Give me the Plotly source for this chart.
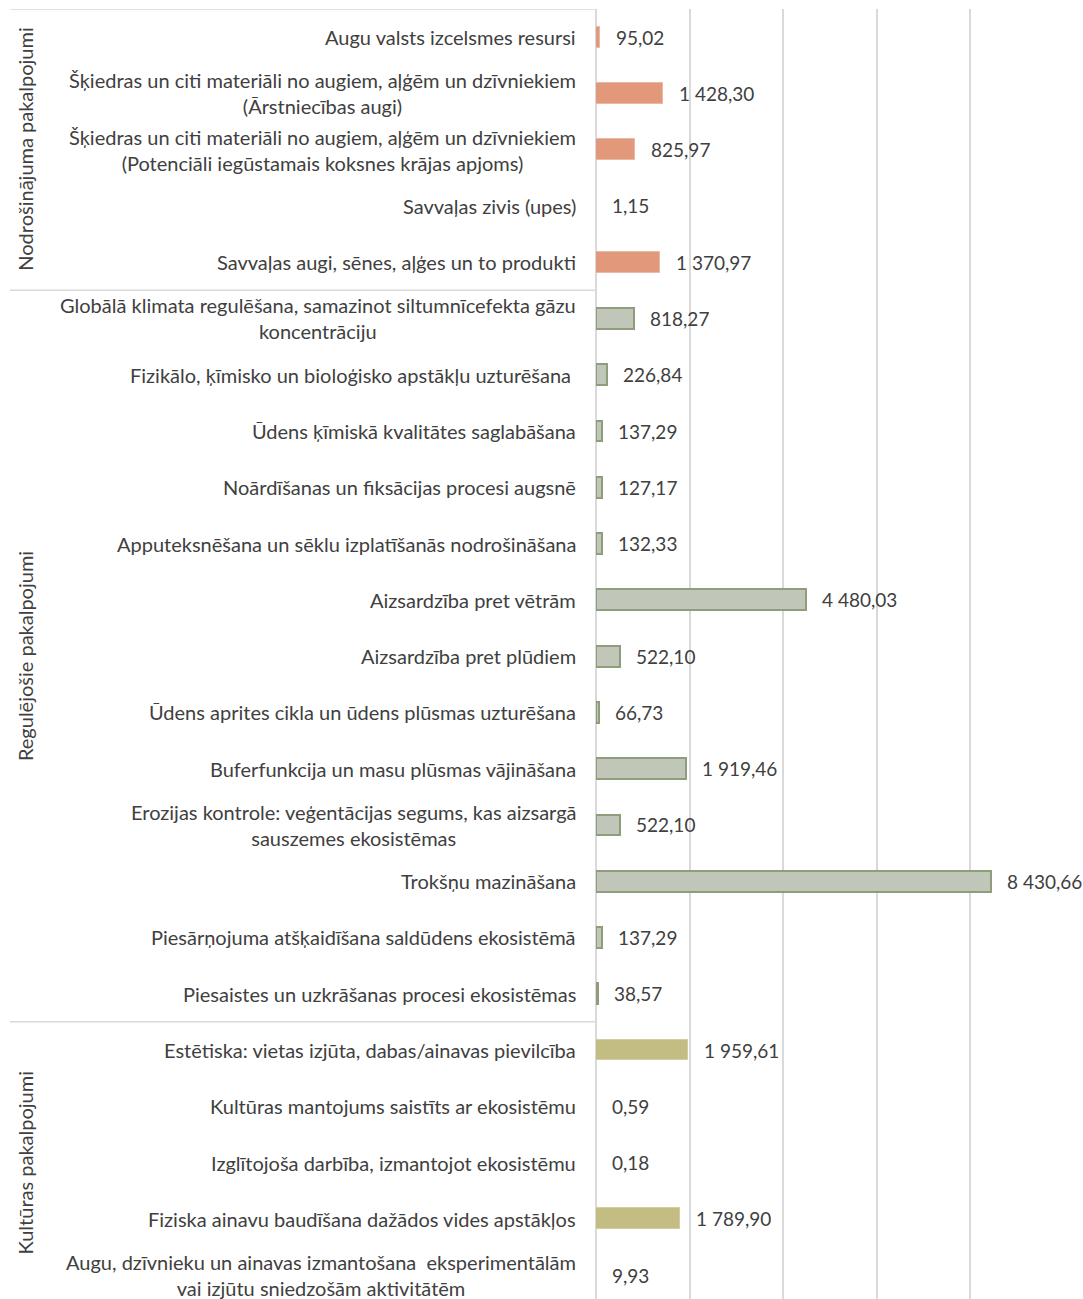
import plotly.graph_objects as go

# Ecosystem service categories, grouped by service type
groups = ["Nodrošinājuma pakalpojumi", "Regulējošie pakalpojumi", "Kultūras pakalpojumi"]

provisioning_labels = [
    "Augu valsts izcelsmes resursi",
    "Šķiedras un citi materiāli no augiem, aļģēm un dzīvniekiem<br>(Ārstniecības augi)",
    "Šķiedras un citi materiāli no augiem, aļģēm un dzīvniekiem<br>(Potenciāli iegūstamais koksnes krājas apjoms)",
    "Savvaļas zivis (upes)",
    "Savvaļas augi, sēnes, aļģes un to produkti",
]
provisioning_values = [95.02, 1428.30, 825.97, 1.15, 1370.97]

regulating_labels = [
    "Globālā klimata regulēšana, samazinot siltumnīcefekta gāzu<br>koncentrāciju",
    "Fizikālo, ķīmisko un bioloģisko apstākļu uzturēšana ",
    "Ūdens ķīmiskā kvalitātes saglabāšana",
    "Noārdīšanas un fiksācijas procesi augsnē",
    "Apputeksnēšana un sēklu izplatīšanās nodrošināšana",
    "Aizsardzība pret vētrām",
    "Aizsardzība pret plūdiem",
    "Ūdens aprites cikla un ūdens plūsmas uzturēšana",
    "Buferfunkcija un masu plūsmas vājināšana",
    "Erozijas kontrole: veģentācijas segums, kas aizsargā<br>sauszemes ekosistēmas",
    "Trokšņu mazināšana",
    "Piesārņojuma atšķaidīšana saldūdens ekosistēmā",
    "Piesaistes un uzkrāšanas procesi ekosistēmas",
]
regulating_values = [818.27, 226.84, 137.29, 127.17, 132.33, 4480.03, 522.10,
                     66.73, 1919.46, 522.10, 8430.66, 137.29, 38.57]

cultural_labels = [
    "Estētiska: vietas izjūta, dabas/ainavas pievilcība",
    "Kultūras mantojums saistīts ar ekosistēmu",
    "Izglītojoša darbība, izmantojot ekosistēmu",
    "Fiziska ainavu baudīšana dažādos vides apstākļos",
    "Augu, dzīvnieku un ainavas izmantošana  eksperimentālām<br>vai izjūtu sniedzošām aktivitātēm",
]
cultural_values = [1959.61, 0.59, 0.18, 1789.90, 9.93]

x_ticks = [0, 2000, 4000, 6000, 8000, 10000]

group_labels = [provisioning_labels, regulating_labels, cultural_labels]
group_values = [provisioning_values, regulating_values, cultural_values]
fill_colors = ["#E1987B", "#C0C7B8", "#C4BD83"]
edge_colors = ["#EBB8A3", "#8E9E7D", "#D2CCA0"]
edge_widths = [1, 2, 1]

TEXT = "#404040"
GRID = "#D9D9D9"
FONT = "Lato"


def fmt(v):
    return f"{v:,.2f}".replace(",", " ").replace(".", ",")


fig = go.Figure()
annotations = []
shapes = []

pos = 0
bounds = []
for gi, (labels, values) in enumerate(zip(group_labels, group_values)):
    ys = list(range(pos, pos + len(values)))
    fig.add_trace(go.Bar(
        x=values, y=ys, orientation="h", width=0.37,
        marker=dict(color=fill_colors[gi],
                    line=dict(color=edge_colors[gi], width=edge_widths[gi])),
        showlegend=False, hoverinfo="skip",
    ))
    for y, lab, v in zip(ys, labels, values):
        annotations.append(dict(
            x=0, xref="paper", y=y, yref="y", text=lab, showarrow=False,
            xanchor="right", yanchor="middle", align="center", xshift=-18,
            font=dict(family=FONT, size=20, color=TEXT),
        ))
        annotations.append(dict(
            x=v, xref="x", y=y, yref="y", text=fmt(v), showarrow=False,
            xanchor="left", yanchor="middle", xshift=14,
            font=dict(family=FONT, size=19, color=TEXT),
        ))
    bounds.append((pos - 0.5, pos + len(values) - 0.5))
    annotations.append(dict(
        x=0, xref="paper", y=(pos + pos + len(values) - 1) / 2, yref="y",
        text=groups[gi], textangle=-90, showarrow=False,
        xanchor="center", yanchor="middle", xshift=-571,
        font=dict(family=FONT, size=20, color=TEXT),
    ))
    pos += len(values)

# horizontal separators of the grouped category axis
for yb in [-0.5, bounds[0][1], bounds[1][1]]:
    shapes.append(dict(
        type="line", xref="paper", yref="y", x0=-586 / 468, x1=0, y0=yb, y1=yb,
        line=dict(color=GRID, width=1.5), layer="below",
    ))

fig.update_layout(
    width=1083, height=1299,
    margin=dict(l=596, r=19, t=9, b=0),
    paper_bgcolor="white", plot_bgcolor="white",
    bargap=0, barmode="overlay",
    annotations=annotations, shapes=shapes,
    xaxis=dict(range=[0, 10000], tickvals=x_ticks, showticklabels=False,
               showgrid=True, gridcolor=GRID, gridwidth=2,
               zeroline=True, zerolinecolor=GRID, zerolinewidth=2,
               showline=False, fixedrange=True),
    yaxis=dict(range=[22.425, -0.5], showticklabels=False, showgrid=False,
               zeroline=False, showline=False, fixedrange=True),
)

fig.write_html("out.html")
